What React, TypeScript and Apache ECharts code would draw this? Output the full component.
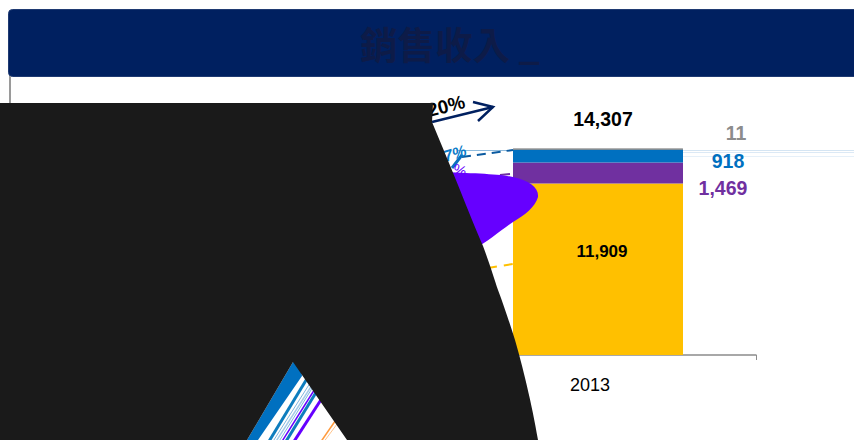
import React, { useEffect, useRef } from "react";
import * as echarts from "echarts";

const categories = ["2013"];
const goldValues = [11909];
const purpleValues = [1469];
const blueValues = [918];
const greyValues = [11];
const totalValues = [14307];
const titleText = "銷售收入 _";

const FONT = '"Liberation Sans", Arial, sans-serif';

const BLOB =
  "M0 103 L433 103 L432 122 C442 146 452 170 460 190 C468 210 476 230 483 246 C489 262 494 278 498 290 C504 306 510 324 515 340 C522 364 532 404 538 440 L347 440 L293 362 L247 440 L0 440 Z";
const PURPLE_BLOB =
  "M440 172 C470 173 500 174 513 177 C530 181 539 188 538 197 C535 207 525 215 513 222 C500 231 490 240 470 252 L430 200 Z";

echarts.graphic.registerShape("darkBlob", echarts.graphic.extendPath(BLOB, {}));
echarts.graphic.registerShape("purpleBlob", echarts.graphic.extendPath(PURPLE_BLOB, {}));

const seg = (x1: number, y1: number, x2: number, y2: number, stroke: string, lineWidth: number, lineDash?: number[], z = 10) => ({
  type: "line",
  z,
  shape: { x1, y1, x2, y2 },
  style: { stroke, lineWidth, lineDash, fill: "none" },
  silent: true,
});

export default function App() {
  const ref = useRef<HTMLDivElement>(null);
  useEffect(() => {
    document.body.style.margin = "0";
    const chart = echarts.init(ref.current!, undefined, { renderer: "svg" });
    const lbl = (value: string, color: string, fontSize: number, offset: number[]) => ({
      show: true,
      position: "inside",
      formatter: value,
      color,
      fontSize,
      fontWeight: "bold",
      fontFamily: FONT,
      offset,
    });
    const fade = (from: string) => ({
      type: "linear",
      x: 0,
      y: 0,
      x2: 1,
      y2: 0,
      colorStops: [
        { offset: 0, color: from },
        { offset: 1, color: "#ffffff" },
      ],
    });
    chart.setOption({
      animation: false,
      backgroundColor: "#ffffff",
      grid: { left: 440, top: 149, width: 316, height: 206 },
      xAxis: {
        type: "category",
        data: categories,
        axisLine: { show: true, lineStyle: { color: "#8C8C8C", width: 1.5 } },
        axisTick: { show: true, length: 5, lineStyle: { color: "#8C8C8C" } },
        axisLabel: { color: "#000000", fontSize: 18, fontFamily: FONT, margin: 21, padding: [0, 16, 0, 0] },
      },
      yAxis: { type: "value", min: 0, max: 14307, show: false, splitLine: { show: false } },
      series: [
        { type: "bar", stack: "a", barWidth: 170, data: goldValues, itemStyle: { color: "#FFC000" }, label: lbl("11,909", "#000000", 17, [4, -18]) },
        { type: "bar", stack: "a", barWidth: 170, data: purpleValues, itemStyle: { color: "#7030A0" }, label: lbl("1,469", "#7030A0", 19.5, [125, 15.5]) },
        { type: "bar", stack: "a", barWidth: 170, data: blueValues, itemStyle: { color: "#0070C0" }, label: lbl("918", "#0070C0", 19.5, [130, 5.5]) },
        { type: "bar", stack: "a", barWidth: 170, data: greyValues, itemStyle: { color: "#8C8C8C", borderColor: "#8C8C8C", borderWidth: 1 }, label: lbl("11", "#8C8C8C", 19.5, [138, -16]) },
        {
          type: "line",
          data: totalValues,
          symbolSize: 0,
          lineStyle: { opacity: 0 },
          label: { show: true, position: "top", formatter: "14,307", color: "#000000", fontSize: 19.5, fontWeight: "bold", fontFamily: FONT, distance: 5, offset: [5, -15] },
        },
      ],
      graphic: {
        elements: [
          { type: "rect", z: 10, shape: { x: 8.5, y: 9.5, width: 860, height: 67, r: 4 }, style: { fill: "#002060", stroke: "#1F3A72", lineWidth: 1 }, silent: true },
          { type: "text", z: 11, x: 360, y: 24, style: { text: titleText, fill: "#0D1B48", font: 'bold 37.5px "Noto Sans CJK TC", sans-serif' }, silent: true },
          seg(10, 76, 10, 104, "#9A9A9A", 2),
          { type: "line", z: 10, shape: { x1: 10, y1: 102.5, x2: 854, y2: 102.5 }, style: { stroke: fade("#9A9A9A"), lineWidth: 1 }, silent: true },
          seg(513, 150.5, 854, 150.5, "#D5E5F3", 1, undefined, 0),
          seg(513, 152.5, 854, 152.5, "#DCE9F5", 1, undefined, 0),
          seg(513, 156.5, 854, 156.5, "#E6F0F9", 1, undefined, 0),
          seg(458, 150.5, 513, 150.5, "#8FBBDD", 1),
          seg(462, 157, 513, 150, "#0A5AA0", 2, [9, 6]),
          { type: "purpleBlob", z: 12, style: { fill: "#6600FF" }, silent: true },
          seg(500, 175, 510, 174, "#7030A0", 2),
          seg(488, 268, 513, 264, "#FFC000", 2, [9, 7]),
          seg(452, 168, 462, 155, "#0A6FBE", 3),
          { type: "text", z: 13, x: 466, y: 150, rotation: 0.3, style: { text: "77%", fill: "#0A7AC8", font: "italic bold 16px " + FONT, align: "right", verticalAlign: "middle" }, silent: true },
          { type: "text", z: 13, x: 460, y: 170, rotation: -0.3, style: { text: "%", fill: "#6600FF", font: "15px " + FONT, align: "center", verticalAlign: "middle" }, silent: true },
          { type: "text", z: 13, x: 446, y: 106, rotation: 0.25, style: { text: "20%", fill: "#000000", font: "bold 19px " + FONT, align: "center", verticalAlign: "middle" }, silent: true },
          { type: "polyline", z: 13, shape: { points: [[432, 122], [493, 107]] }, style: { stroke: "#002060", lineWidth: 2.5, fill: "none" }, silent: true },
          { type: "polyline", z: 13, shape: { points: [[473, 102], [493, 107], [478, 121]] }, style: { stroke: "#002060", lineWidth: 2.5, fill: "none" }, silent: true },
          { type: "polygon", z: 14, shape: { points: [[293, 362], [247, 440], [258, 440], [302, 376], [300, 362]] }, style: { fill: "#0070C0" }, silent: true },
          seg(308, 377, 268, 443, "#0E7DBE", 3),
          seg(312, 380, 272, 443, "#7FB5DE", 1),
          seg(314, 382, 275, 443, "#A5CBE8", 1.5),
          seg(316, 382, 278, 443, "#7FB5DE", 1),
          seg(318, 384, 281, 443, "#6600FF", 1.5),
          seg(320, 386, 285, 443, "#0E7DBE", 3),
          seg(326, 392, 293, 443, "#6600FF", 3),
          seg(340, 414, 320, 443, "#FF9A3C", 1.5),
          seg(343, 416, 323, 443, "#FFC48C", 1),
          { type: "darkBlob", z: 20, style: { fill: "#1A1A1A" }, silent: true },
        ],
      },
    });
    return () => chart.dispose();
  }, []);
  return <div ref={ref} style={{ width: 854, height: 440, overflow: "hidden" }} />;
}
